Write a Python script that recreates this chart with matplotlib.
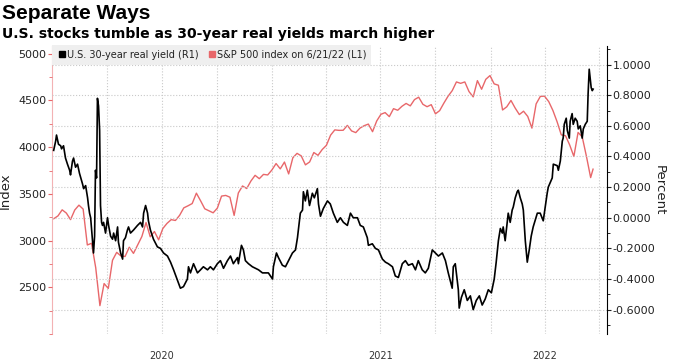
#Separate Ways - S&P 500 vs US 30-year real yield (Bloomberg style)

import numpy as np
import pandas as pd
import matplotlib
matplotlib.use('Agg')
import matplotlib.pyplot as plt
from matplotlib.lines import Line2D
from matplotlib.ticker import MultipleLocator, FormatStrFormatter

# S&P 500 weekly closes (Fridays from 3 Jan 2020), last point is 6/21/22
spx_close = [
    3235, 3265, 3330, 3295, 3225, 3328, 3380, 3338, 2954, 2972, 2711, 2305, 2541,
    2489, 2790, 2875, 2837, 2831, 2930, 2864, 2955, 3044, 3194, 3041, 3098, 3009,
    3130, 3185, 3225, 3216, 3271, 3351, 3373, 3397, 3508, 3427, 3341, 3319, 3298,
    3348, 3477, 3484, 3465, 3270, 3510, 3585, 3558, 3638, 3699, 3663, 3709, 3703,
    3756, 3825, 3768, 3841, 3714, 3887, 3934, 3907, 3811, 3842, 3943, 3913, 3975,
    4020, 4129, 4185, 4180, 4181, 4233, 4174, 4156, 4204, 4230, 4247, 4166, 4281,
    4352, 4370, 4327, 4412, 4395, 4437, 4468, 4442, 4509, 4535, 4459, 4433, 4455,
    4357, 4391, 4471, 4545, 4605, 4698, 4683, 4698, 4595, 4538, 4712, 4620, 4726,
    4766, 4677, 4663, 4398, 4432, 4500, 4419, 4349, 4385, 4329, 4204, 4463, 4543,
    4546, 4488, 4393, 4272, 4132, 4123, 4024, 3901, 4158, 4109, 3901, 3675, 3765,
]
spx_dates = list(pd.date_range('2020-01-03', '2022-06-17', freq='W-FRI')) + [pd.Timestamp('2022-06-21')]

# US 30-year real yield (%), time in years since 1 Jan 2020
yield_t = [
    0.005, 0.014, 0.018, 0.027, 0.037, 0.041, 0.050, 0.059, 0.068, 0.078, 0.082, 0.091,
    0.096, 0.105, 0.114, 0.123, 0.137, 0.142, 0.151, 0.160, 0.164, 0.169, 0.174, 0.178,
    0.183, 0.187, 0.192, 0.196, 0.201, 0.205, 0.210, 0.215, 0.219, 0.224, 0.228, 0.233,
    0.242, 0.251, 0.256, 0.265, 0.274, 0.279, 0.288, 0.297, 0.301, 0.311, 0.320, 0.324,
    0.333, 0.342, 0.347, 0.356, 0.370, 0.388, 0.402, 0.411, 0.416, 0.425, 0.434, 0.438,
    0.447, 0.461, 0.479, 0.493, 0.507, 0.525, 0.539, 0.553, 0.571, 0.584, 0.598, 0.616,
    0.621, 0.630, 0.644, 0.662, 0.676, 0.689, 0.708, 0.721, 0.735, 0.753, 0.767, 0.781,
    0.799, 0.813, 0.826, 0.845, 0.849, 0.863, 0.872, 0.881, 0.895, 0.913, 0.927, 0.941,
    0.959, 0.973, 0.986, 1.005, 1.009, 1.023, 1.032, 1.050, 1.064, 1.078, 1.096, 1.110,
    1.119, 1.132, 1.142, 1.146, 1.155, 1.164, 1.174, 1.187, 1.196, 1.210, 1.215, 1.224,
    1.237, 1.256, 1.269, 1.283, 1.301, 1.315, 1.329, 1.347, 1.361, 1.374, 1.393, 1.406,
    1.420, 1.438, 1.443, 1.461, 1.475, 1.489, 1.507, 1.521, 1.534, 1.553, 1.566, 1.580,
    1.598, 1.612, 1.626, 1.644, 1.658, 1.671, 1.689, 1.703, 1.717, 1.735, 1.749, 1.763,
    1.781, 1.795, 1.808, 1.826, 1.831, 1.840, 1.854, 1.858, 1.868, 1.881, 1.895, 1.909,
    1.922, 1.936, 1.950, 1.963, 1.977, 1.991, 2.005, 2.018, 2.027, 2.037, 2.046, 2.055,
    2.059, 2.068, 2.082, 2.091, 2.100, 2.105, 2.114, 2.123, 2.128, 2.137, 2.146, 2.151,
    2.160, 2.169, 2.178, 2.187, 2.196, 2.215, 2.228, 2.242, 2.260, 2.265, 2.283, 2.288,
    2.306, 2.311, 2.320, 2.329, 2.333, 2.338, 2.347, 2.352, 2.361, 2.365, 2.374, 2.379,
    2.388, 2.397, 2.402, 2.411, 2.420, 2.425, 2.434, 2.443, 2.447, 2.452, 2.461, 2.466,
    2.470,
]
yield_pct = [
    0.44, 0.50, 0.54, 0.48, 0.47, 0.45, 0.47, 0.39, 0.35, 0.31, 0.28, 0.37,
    0.39, 0.33, 0.35, 0.29, 0.22, 0.19, 0.21, 0.13, 0.08, 0.03, 0.00, -0.07,
    -0.15, -0.23, -0.12, 0.31, 0.26, 0.78, 0.73, 0.57, 0.08, -0.03, -0.05, -0.03,
    -0.10, 0.00, -0.05, -0.12, -0.14, -0.10, -0.15, -0.06, -0.16, -0.23, -0.27, -0.15,
    -0.13, -0.08, -0.06, -0.10, -0.08, -0.05, -0.03, -0.06, 0.03, 0.08, 0.03, -0.02,
    -0.08, -0.14, -0.19, -0.20, -0.23, -0.25, -0.29, -0.34, -0.41, -0.46, -0.45, -0.40,
    -0.32, -0.36, -0.30, -0.36, -0.34, -0.32, -0.34, -0.32, -0.34, -0.30, -0.28, -0.33,
    -0.28, -0.25, -0.30, -0.26, -0.30, -0.18, -0.21, -0.28, -0.30, -0.32, -0.33, -0.34,
    -0.36, -0.36, -0.36, -0.40, -0.32, -0.23, -0.26, -0.31, -0.32, -0.28, -0.23, -0.21,
    -0.13, 0.03, 0.05, 0.17, 0.11, 0.18, 0.08, 0.16, 0.13, 0.19, 0.09, 0.01,
    0.06, 0.11, 0.09, 0.03, -0.03, 0.00, -0.03, -0.05, 0.03, 0.00, 0.00, -0.05,
    -0.06, -0.13, -0.18, -0.17, -0.20, -0.21, -0.27, -0.29, -0.30, -0.32, -0.38, -0.39,
    -0.30, -0.28, -0.31, -0.30, -0.34, -0.28, -0.34, -0.36, -0.33, -0.21, -0.23, -0.25,
    -0.23, -0.28, -0.36, -0.46, -0.32, -0.30, -0.47, -0.59, -0.52, -0.47, -0.54, -0.51,
    -0.60, -0.54, -0.51, -0.57, -0.53, -0.47, -0.49, -0.40, -0.29, -0.15, -0.07, -0.10,
    -0.06, -0.15, 0.03, -0.03, 0.05, 0.07, 0.13, 0.17, 0.18, 0.13, 0.09, 0.05,
    -0.15, -0.29, -0.21, -0.12, -0.06, 0.03, 0.03, -0.02, 0.16, 0.20, 0.26, 0.35,
    0.34, 0.31, 0.37, 0.50, 0.52, 0.61, 0.65, 0.57, 0.52, 0.63, 0.68, 0.61,
    0.65, 0.63, 0.58, 0.60, 0.52, 0.58, 0.61, 0.63, 0.81, 0.97, 0.85, 0.83,
    0.84,
]

year_labels = ['2020', '2021', '2022']
year_label_dates = ['2020-07-01', '2021-07-01', '2022-04-01']

RED = '#e8676a'
GRID = '#c9c9c9'

yield_dates = pd.Timestamp('2020-01-01') + pd.to_timedelta(np.array(yield_t) * 365.25, unit='D')

fig = plt.figure(figsize=(6.75, 3.64), dpi=100)
ax = fig.add_axes([0.077, 0.082, 0.822, 0.791])
ax2 = ax.twinx()

ax.plot(spx_dates, spx_close, color=RED, lw=1.0, zorder=2)
ax2.plot(yield_dates, yield_pct, color='black', lw=1.2, zorder=3)

# axis ranges
ax.set_xlim(pd.Timestamp('2019-12-31'), pd.Timestamp('2022-07-14'))
ax.set_ylim(2000, 5080)
ax2.set_ylim(-0.76, 1.12)

# left axis (Index)
ax.set_yticks([2500, 3000, 3500, 4000, 4500, 5000])
ax.yaxis.set_minor_locator(MultipleLocator(250))
ax.tick_params(axis='y', which='major', colors=RED, length=3, labelsize=8, pad=1)
ax.tick_params(axis='y', which='minor', colors=RED, length=2)
for lab in ax.get_yticklabels():
    lab.set_color('#222222')
ax.set_ylabel('Index', fontsize=9.5, color='#222222')
ax.yaxis.set_label_coords(-0.072, 0.5)

# right axis (Percent)
ax2.set_yticks(np.arange(-0.6, 1.01, 0.2))
ax2.yaxis.set_major_formatter(FormatStrFormatter('%.4f'))
ax2.yaxis.set_minor_locator(MultipleLocator(0.1))
ax2.tick_params(axis='y', which='major', length=3, labelsize=8, pad=1, colors='#222222')
ax2.tick_params(axis='y', which='minor', length=2)
ax2.set_ylabel('Percent', fontsize=9.5, color='#222222', rotation=270, va='center')
ax2.yaxis.set_label_coords(1.095, 0.5)

# x axis: quarterly grid, year labels
ax.xaxis.remove_overlapping_locs = False
ax.set_xticks(pd.date_range('2020-04-01', '2022-07-01', freq='QS'))
ax.xaxis.set_major_formatter(plt.NullFormatter())
ax.set_xticks(pd.to_datetime(year_label_dates), minor=True)
ax.set_xticklabels(year_labels, minor=True)
ax.tick_params(axis='x', which='both', length=0, labelsize=7, labelcolor='#333333', pad=12)

ax.grid(True, axis='x', which='major', color=GRID, ls=':', lw=0.8)
ax2.grid(True, axis='y', which='major', color=GRID, ls=':', lw=0.8)

for a in (ax, ax2):
    a.spines['top'].set_visible(False)
    a.spines['bottom'].set_visible(False)
ax.spines['right'].set_visible(False)
ax.spines['left'].set_color(RED)
ax.spines['left'].set_alpha(0.5)
ax2.spines['left'].set_visible(False)
ax2.spines['right'].set_color('black')

# legend
handles = [Line2D([], [], marker='s', ls='none', color='black', markersize=5),
           Line2D([], [], marker='s', ls='none', color=RED, markersize=5)]
leg = ax2.legend(handles, ['U.S. 30-year real yield (R1)', 'S&P 500 index on 6/21/22 (L1)'],
                 loc='upper left', bbox_to_anchor=(0.0, 1.005), ncol=2, fontsize=7,
                 frameon=True, fancybox=False, borderaxespad=0, handletextpad=0.0,
                 columnspacing=0.9, handlelength=1.0, borderpad=0.5)
leg.get_frame().set_facecolor('#efefef')
leg.get_frame().set_edgecolor('none')
leg.get_frame().set_alpha(1)
leg.set_zorder(10)
for t in leg.get_texts():
    t.set_color('#222222')

fig.text(0.003, 0.962, 'Separate Ways', fontsize=15, fontweight='bold',
         family='Liberation Sans', va='center', ha='left')
fig.text(0.003, 0.907, 'U.S. stocks tumble as 30-year real yields march higher', fontsize=10.1,
         fontweight='bold', family='DejaVu Sans', va='center', ha='left')

fig.savefig('out.png', dpi=100)
